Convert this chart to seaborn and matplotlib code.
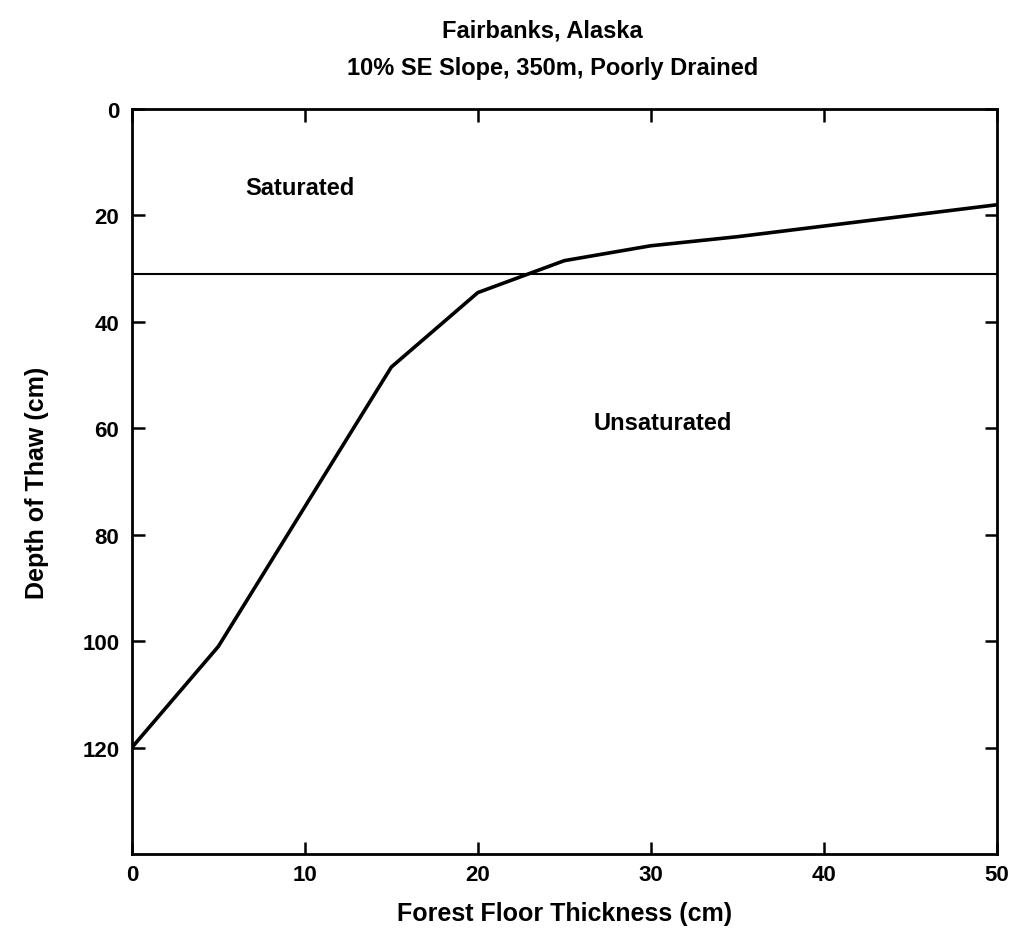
import matplotlib
matplotlib.use("Agg")
import matplotlib.pyplot as plt
import seaborn as sns
import pandas as pd

forest_floor = [0, 5, 15, 20, 25, 30, 35, 50]
thaw_depth = [120, 101, 48.5, 34.5, 28.5, 25.7, 24, 18]
saturation_level = 31
x_ticks = [0, 10, 20, 30, 40, 50]
y_ticks = [0, 20, 40, 60, 80, 100, 120]

sns.set_theme(style="ticks")
plt.rcParams['font.family'] = ['Liberation Sans', 'DejaVu Sans']
plt.rcParams['font.weight'] = 'bold'
plt.rcParams['text.color'] = 'black'
plt.rcParams['axes.labelcolor'] = 'black'
plt.rcParams['xtick.color'] = 'black'
plt.rcParams['ytick.color'] = 'black'

fig = plt.figure(figsize=(10.14, 9.45), dpi=100)
ax = fig.add_axes([0.130, 0.0952, 0.853, 0.7884])

df = pd.DataFrame({"x": forest_floor, "y": thaw_depth})
sns.lineplot(data=df, x="x", y="y", ax=ax, color="black", linewidth=2.6)
ax.axhline(saturation_level, color="black", linewidth=1.5)

ax.set_xlim(0, 50)
ax.set_ylim(140, 0)
ax.set_xticks(x_ticks)
ax.set_yticks(y_ticks)
ax.tick_params(direction="in", length=9, width=1.8, top=True, right=True,
               labelsize=16, pad=9)
ax.tick_params(axis="x", pad=7)
for lab in ax.get_xticklabels() + ax.get_yticklabels():
    lab.set_fontweight("bold")
for s in ax.spines.values():
    s.set_linewidth(2)
    s.set_color("black")

ax.set_xlabel("Forest Floor Thickness (cm)", fontsize=18, fontweight="bold", labelpad=12)
ax.set_ylabel("Depth of Thaw (cm)", fontsize=18, fontweight="bold", labelpad=24)

ax.text(9.7, 14.7, "Saturated", fontsize=17, fontweight="bold", ha="center", va="center")
ax.text(30.7, 58.9, "Unsaturated", fontsize=17, fontweight="bold", ha="center", va="center")

fig.text(0.535, 0.979, "Fairbanks, Alaska", fontsize=17, fontweight="bold", ha="center", va="top")
fig.text(0.545, 0.940, "10% SE Slope, 350m, Poorly Drained", fontsize=17, fontweight="bold", ha="center", va="top")

fig.savefig("out.png", dpi=100, facecolor="white")
